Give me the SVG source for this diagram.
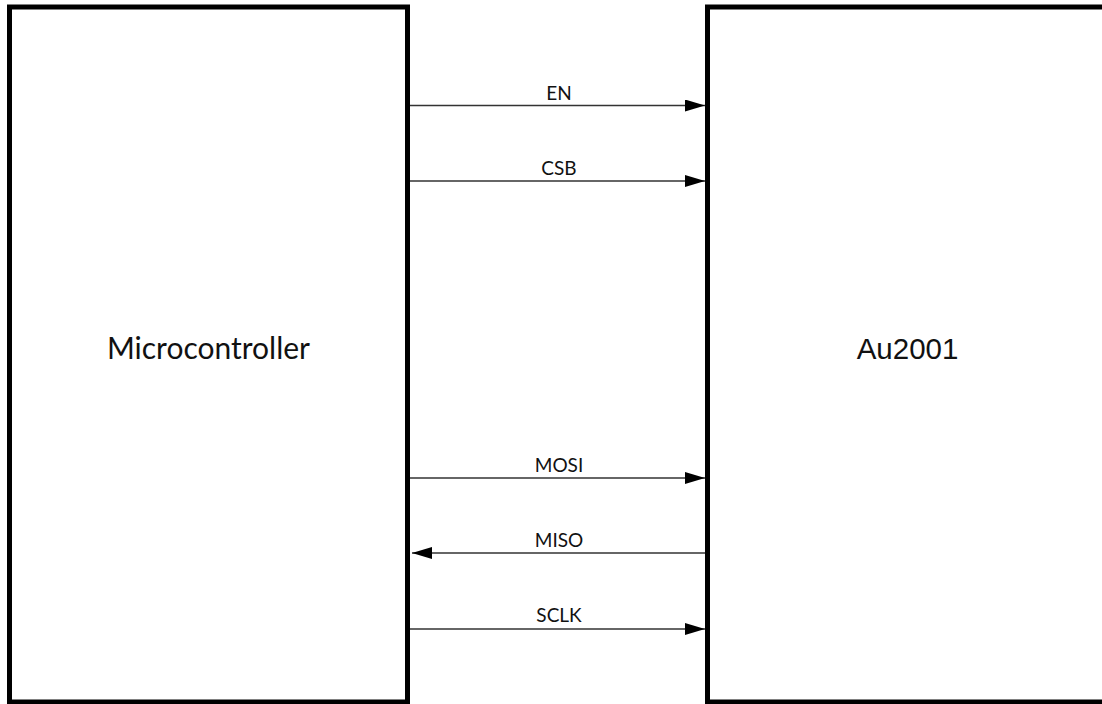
<svg xmlns="http://www.w3.org/2000/svg" width="1102" height="704" viewBox="0 0 1102 704">
<defs>
<style>
.box{fill:#fff;stroke:#000;stroke-width:5}
.big{font-family:Lato,"Liberation Sans",sans-serif;font-size:30px;fill:#111;text-anchor:middle}
.big2{font-family:"Liberation Sans",Arial,sans-serif;font-size:29.5px;fill:#111;text-anchor:middle}
.lbl{font-family:Lato,"Liberation Sans",sans-serif;font-size:19px;fill:#111;text-anchor:middle}
.wire{stroke:#333;stroke-width:1.5;fill:none}
</style>
<marker id="ah" markerWidth="20" markerHeight="12" refX="20" refY="6" orient="auto" markerUnits="userSpaceOnUse">
<path d="M0,0 L20,6 L0,12 Z" fill="#000"/>
</marker>
</defs>
<rect width="1102" height="704" fill="#fff"/>
<g id="microcontroller">
<rect class="box" x="9.5" y="7" width="398" height="695"/>
<text class="big" x="208.5" y="359">Microcontroller</text>
</g>
<g id="au2001">
<rect class="box" x="707.5" y="7" width="400" height="695"/>
<text class="big2" x="907.5" y="359">Au2001</text>
</g>
<g id="connectors">
<line class="wire" x1="410" y1="105.5" x2="705" y2="105.5" marker-end="url(#ah)"/>
<text class="lbl" x="559" y="100">EN</text>
<line class="wire" x1="410" y1="181" x2="705" y2="181" marker-end="url(#ah)"/>
<text class="lbl" x="559" y="175">CSB</text>
<line class="wire" x1="410" y1="478" x2="705" y2="478" marker-end="url(#ah)"/>
<text class="lbl" x="559" y="472">MOSI</text>
<line class="wire" x1="705" y1="553" x2="412" y2="553" marker-end="url(#ah)"/>
<text class="lbl" x="559" y="547">MISO</text>
<line class="wire" x1="410" y1="629" x2="705" y2="629" marker-end="url(#ah)"/>
<text class="lbl" x="559" y="622">SCLK</text>
</g>
</svg>
